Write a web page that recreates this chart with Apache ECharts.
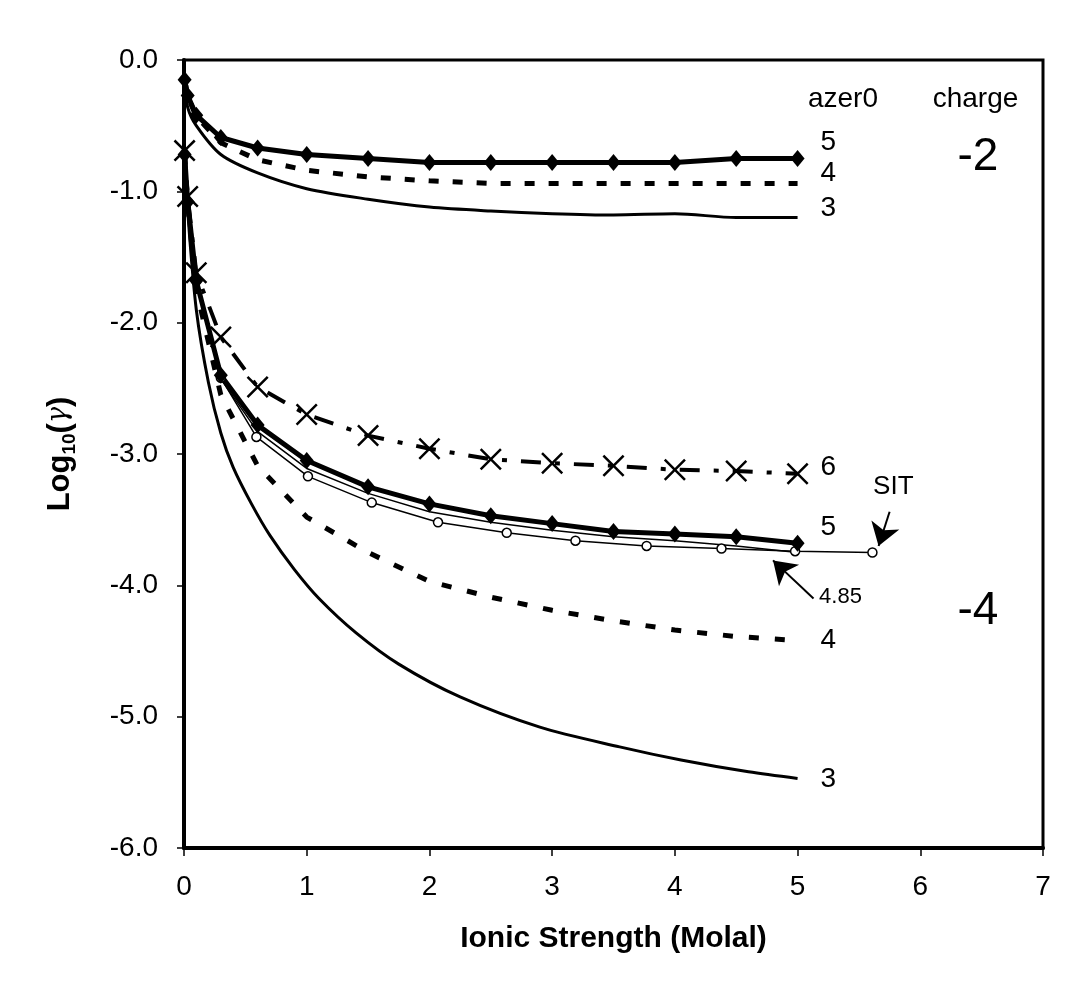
<!DOCTYPE html>
<html>
<head>
<meta charset="utf-8">
<title>Log10(gamma) vs Ionic Strength</title>
<script src="https://cdn.jsdelivr.net/npm/echarts@6.0.0/dist/echarts.min.js"></script>
<style>
  html, body { margin: 0; padding: 0; background: #fff; }
  #chart { width: 1065px; height: 993px; }
</style>
</head>
<body>
<div id="chart"></div>
<script>
// ionic strength (molal) of the marker series
var ionicStrength = [0.005, 0.03, 0.1, 0.3, 0.6, 1, 1.5, 2, 2.5, 3, 3.5, 4, 4.5, 5];

// charge -2
var z2Azer5 = [-0.15, -0.27, -0.42, -0.59, -0.67, -0.72, -0.75, -0.78, -0.78, -0.78, -0.78, -0.78, -0.75, -0.75];
var z2Azer4 = [-0.15, -0.28, -0.43, -0.63, -0.76, -0.84, -0.89, -0.92, -0.94, -0.94, -0.94, -0.94, -0.94, -0.94];
var z2Azer3 = [-0.18, -0.36, -0.50, -0.72, -0.86, -0.98, -1.06, -1.12, -1.15, -1.17, -1.18, -1.17, -1.20, -1.20];

// charge -4
var z4Azer6 = [-0.69, -1.04, -1.62, -2.11, -2.49, -2.70, -2.86, -2.96, -3.04, -3.07, -3.09, -3.12, -3.13, -3.15];
var z4Azer5 = [-0.72, -1.08, -1.68, -2.40, -2.78, -3.05, -3.25, -3.38, -3.47, -3.53, -3.59, -3.61, -3.63, -3.68];
var z4Azer485 = [-0.72, -1.09, -1.70, -2.43, -2.83, -3.11, -3.30, -3.44, -3.52, -3.58, -3.63, -3.66, -3.70, -3.75];
var z4Azer4 = [-0.72, -1.10, -1.75, -2.55, -3.09, -3.48, -3.75, -3.97, -4.09, -4.19, -4.27, -4.34, -4.39, -4.42];

// azer0 = 3, charge -4 (thin curve, read more densely)
var z4Azer3X = [0.005, 0.03, 0.1, 0.2, 0.3, 0.4, 0.55, 0.7, 0.9, 1.1, 1.4, 1.75, 2.25, 2.9, 3.55, 4.05, 4.6, 5];
var z4Azer3 = [-0.72, -1.15, -1.90, -2.46, -2.84, -3.10, -3.38, -3.62, -3.88, -4.10, -4.36, -4.60, -4.85, -5.08, -5.23, -5.33, -5.42, -5.47];

// SIT, charge -4
var sitX = [0.1, 0.3, 0.59, 1.01, 1.53, 2.07, 2.63, 3.19, 3.77, 4.38, 4.98, 5.61];
var sitY = [-1.68, -2.42, -2.87, -3.17, -3.37, -3.52, -3.60, -3.66, -3.70, -3.72, -3.74, -3.75];

// axis ticks
var xTicks = [0, 1, 2, 3, 4, 5, 6, 7];
var yTicks = [0, -1, -2, -3, -4, -5, -6];

// text written on the plot, in data coordinates
var notes = [
    { text: 'azer0', x: 5.37, y: -0.30, size: 28 },
    { text: 'charge', x: 6.45, y: -0.30, size: 28 },
    { text: '-2', x: 6.47, y: -0.74, size: 46 },
    { text: '5', x: 5.25, y: -0.63, size: 28 },
    { text: '4', x: 5.25, y: -0.86, size: 28 },
    { text: '3', x: 5.25, y: -1.13, size: 28 },
    { text: '6', x: 5.25, y: -3.10, size: 28 },
    { text: 'SIT', x: 5.78, y: -3.25, size: 26 },
    { text: '5', x: 5.25, y: -3.56, size: 28 },
    { text: '4.85', x: 5.35, y: -4.09, size: 22 },
    { text: '-4', x: 6.47, y: -4.20, size: 46 },
    { text: '4', x: 5.25, y: -4.42, size: 28 },
    { text: '3', x: 5.25, y: -5.48, size: 28 }
];
// arrows: [from, to]
var arrows = [
    [[5.75, -3.44], [5.66, -3.70]],
    [[5.13, -4.10], [4.80, -3.81]]
];

var FONT = '"Liberation Sans", Arial, sans-serif';
var crossPath = 'path://M0,0.8L0.8,0L5,4.2L9.2,0L10,0.8L5.8,5L10,9.2L9.2,10L5,5.8L0.8,10L0,9.2L4.2,5Z';

function pairs(xs, ys) {
    return xs.map(function (x, i) { return [x, ys[i]]; });
}

function lineSeries(name, data, width, type, extra) {
    var s = {
        name: name,
        type: 'line',
        data: data,
        symbol: 'none',
        silent: true,
        lineStyle: { color: '#000', width: width, type: type }
    };
    for (var k in extra) s[k] = extra[k];
    return s;
}

var chart = echarts.init(document.getElementById('chart'), null, { renderer: 'canvas' });

var series = [
    lineSeries('z2 azer3', pairs(ionicStrength, z2Azer3), 3, 'solid', { smooth: 0.3 }),
    lineSeries('z2 azer4', pairs(ionicStrength, z2Azer4), 5, [10, 14], {}),
    lineSeries('z2 azer5', pairs(ionicStrength, z2Azer5), 5, 'solid', {
        symbol: 'diamond', symbolSize: [14, 17], itemStyle: { color: '#000' }
    }),
    lineSeries('z4 azer3', pairs(z4Azer3X, z4Azer3), 3, 'solid', { smooth: 0.3 }),
    lineSeries('z4 azer4', pairs(ionicStrength, z4Azer4), 5, [10, 16], {}),
    lineSeries('SIT', pairs(sitX, sitY), 1.5, 'solid', {
        symbol: 'circle', symbolSize: 9, showAllSymbol: true,
        itemStyle: { color: '#fff', borderColor: '#000', borderWidth: 1.5 }
    }),
    lineSeries('z4 azer4.85', pairs(ionicStrength, z4Azer485), 1.5, 'solid', {}),
    lineSeries('z4 azer5', pairs(ionicStrength, z4Azer5), 5, 'solid', {
        symbol: 'diamond', symbolSize: [14, 17], itemStyle: { color: '#000' }
    }),
    lineSeries('z4 azer6', pairs(ionicStrength, z4Azer6), 4, [20, 14, 5, 14], {
        symbol: crossPath, symbolSize: 22, itemStyle: { color: '#000' }
    }),
    // arrows pointing at the SIT and 4.85 curves
    {
        name: 'arrows',
        type: 'line',
        data: [],
        silent: true,
        markLine: {
            silent: true,
            symbol: ['none', 'arrow'],
            symbolSize: 22,
            label: { show: false },
            lineStyle: { color: '#000', width: 2, type: 'solid' },
            data: arrows.map(function (a) {
                return [{ coord: a[0] }, { coord: a[1] }];
            })
        }
    }
];

var option = {
    animation: false,
    backgroundColor: '#fff',
    grid: {
        left: 184, top: 60, right: 22, bottom: 145,
        show: true, borderColor: '#000', borderWidth: 3, backgroundColor: '#fff'
    },
    xAxis: {
        type: 'value',
        min: xTicks[0], max: xTicks[xTicks.length - 1], interval: 1,
        name: 'Ionic Strength (Molal)',
        nameLocation: 'middle',
        nameGap: 76,
        nameTextStyle: { fontSize: 30, fontWeight: 'bold', color: '#000', fontFamily: FONT },
        axisLine: { show: true, onZero: false, lineStyle: { color: '#000', width: 4 } },
        axisTick: { show: true, length: 8, lineStyle: { color: '#000', width: 1.5 } },
        axisLabel: { fontSize: 28, color: '#000', margin: 25, fontFamily: FONT },
        splitLine: { show: false }
    },
    yAxis: {
        type: 'value',
        min: yTicks[yTicks.length - 1], max: yTicks[0], interval: 1,
        name: '{b|Log}{s|10}{b|(}{g|γ}{b|)}',
        nameLocation: 'middle',
        nameRotate: 90,
        nameGap: 106,
        nameTextStyle: {
            color: '#000',
            rich: {
                b: { fontSize: 31, fontWeight: 'bold', fontFamily: FONT, lineHeight: 33, verticalAlign: 'top' },
                s: { fontSize: 19, fontWeight: 'bold', fontFamily: FONT, lineHeight: 19, padding: [15, 0, 0, 0], verticalAlign: 'top' },
                g: { fontSize: 27, fontStyle: 'italic', fontFamily: '"DejaVu Serif", serif', lineHeight: 33, verticalAlign: 'top' }
            }
        },
        axisLine: { show: true, onZero: false, lineStyle: { color: '#000', width: 4 } },
        axisTick: { show: true, length: 7, lineStyle: { color: '#000', width: 1.5 } },
        axisLabel: {
            fontSize: 28, color: '#000', margin: 26, fontFamily: FONT,
            formatter: function (v) { return v.toFixed(1); }
        },
        splitLine: { show: false }
    },
    series: series
};

chart.setOption(option);

// place the notes through the chart's own scales
chart.setOption({
    graphic: notes.map(function (n) {
        var p = chart.convertToPixel({ gridIndex: 0 }, [n.x, n.y]);
        return {
            type: 'text',
            x: p[0], y: p[1],
            silent: true,
            z: 100,
            style: {
                text: n.text,
                fill: '#000',
                font: n.size + 'px ' + FONT,
                textAlign: 'center',
                textVerticalAlign: 'middle'
            }
        };
    })
});
</script>
</body>
</html>
